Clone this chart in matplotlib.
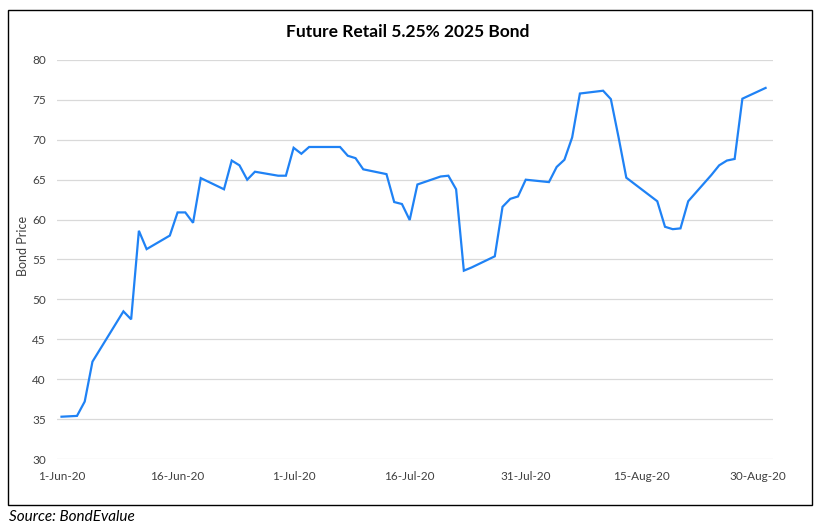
import pandas as pd
import numpy as np
import matplotlib.pyplot as plt
import matplotlib.dates as mdates
from matplotlib.patches import Rectangle

plt.rcParams['font.family'] = ['Lato', 'DejaVu Sans']

# --- data ---
dates = pd.to_datetime([
    '2020-06-01', '2020-06-03', '2020-06-04', '2020-06-05', '2020-06-09', '2020-06-10',
    '2020-06-11', '2020-06-12', '2020-06-15', '2020-06-16', '2020-06-17', '2020-06-18',
    '2020-06-19', '2020-06-22', '2020-06-23', '2020-06-24', '2020-06-25', '2020-06-26',
    '2020-06-29', '2020-06-30', '2020-07-01', '2020-07-02', '2020-07-03', '2020-07-07',
    '2020-07-08', '2020-07-09', '2020-07-10', '2020-07-13', '2020-07-14', '2020-07-15',
    '2020-07-16', '2020-07-17', '2020-07-20', '2020-07-21', '2020-07-22', '2020-07-23',
    '2020-07-24', '2020-07-27', '2020-07-28', '2020-07-29', '2020-07-30', '2020-07-31',
    '2020-08-03', '2020-08-04', '2020-08-05', '2020-08-06', '2020-08-07', '2020-08-10',
    '2020-08-11', '2020-08-12', '2020-08-13', '2020-08-17', '2020-08-18', '2020-08-19',
    '2020-08-20', '2020-08-21', '2020-08-24', '2020-08-25', '2020-08-26', '2020-08-27',
    '2020-08-28', '2020-08-31',
])
prices = [
    35.3, 35.4, 37.2, 42.2, 48.5, 47.5,
    58.6, 56.3, 58.0, 60.9, 60.9, 59.6,
    65.2, 63.8, 67.4, 66.8, 65.0, 66.0,
    65.5, 65.5, 69.0, 68.25, 69.1, 69.1,
    68.0, 67.7, 66.3, 65.7, 62.2, 61.95,
    59.95, 64.4, 65.4, 65.5, 63.8, 53.6,
    54.0, 55.4, 61.6, 62.6, 62.9, 65.0,
    64.7, 66.6, 67.5, 70.3, 75.8, 76.15,
    75.1, 70.3, 65.25, 62.3, 59.1, 58.8,
    58.9, 62.3, 65.6, 66.8, 67.4, 67.6,
    75.15, 76.5,
]
tick_dates = pd.to_datetime(['2020-06-01', '2020-06-16', '2020-07-01', '2020-07-16',
                             '2020-07-31', '2020-08-15', '2020-08-30'])
y_ticks = [30, 35, 40, 45, 50, 55, 60, 65, 70, 75, 80]

# --- plot ---
fig = plt.figure(figsize=(8.15, 5.27), dpi=100)
ax = fig.add_axes([57 / 815, 1 - 459 / 527, 716 / 815, 399 / 527])

ax.plot(dates, prices, color='#1f82f5', linewidth=1.6, solid_joinstyle='miter')

ax.set_ylim(30, 80)
ax.set_yticks(y_ticks)
ax.set_xlim(pd.Timestamp('2020-05-31 10:00'), pd.Timestamp('2020-08-31 23:00'))
ax.set_xticks(tick_dates)
ax.xaxis.set_major_formatter(mdates.DateFormatter('%-d-%b-%y'))
ax.grid(axis='y', color='#d9d9d9', linewidth=0.9)
ax.set_axisbelow(True)
for s in ax.spines.values():
    s.set_visible(False)
ax.tick_params(length=0, labelsize=8.5, colors='#404040')
ax.tick_params(axis='y', pad=8)
ax.tick_params(axis='x', pad=9)
ax.set_ylabel('Bond Price', fontsize=9, color='#404040')
ax.yaxis.set_label_coords((29 - 57) / 716, 0.534)

fig.text(0.5, 1 - 32 / 527, 'Future Retail 5.25% 2025 Bond', ha='center', va='center',
         fontsize=12.5, fontweight='bold', color='black')
fig.text(9 / 815, 1 - 517 / 527, 'Source: BondEvalue', ha='left', va='center',
         fontsize=11, style='italic', color='black')

# outer chart border
fig.patches.append(Rectangle((8 / 815, 1 - 505 / 527), 804 / 815, 495 / 527,
                             transform=fig.transFigure, fill=False,
                             edgecolor='black', linewidth=1.0))

fig.savefig('out.png', dpi=100)
